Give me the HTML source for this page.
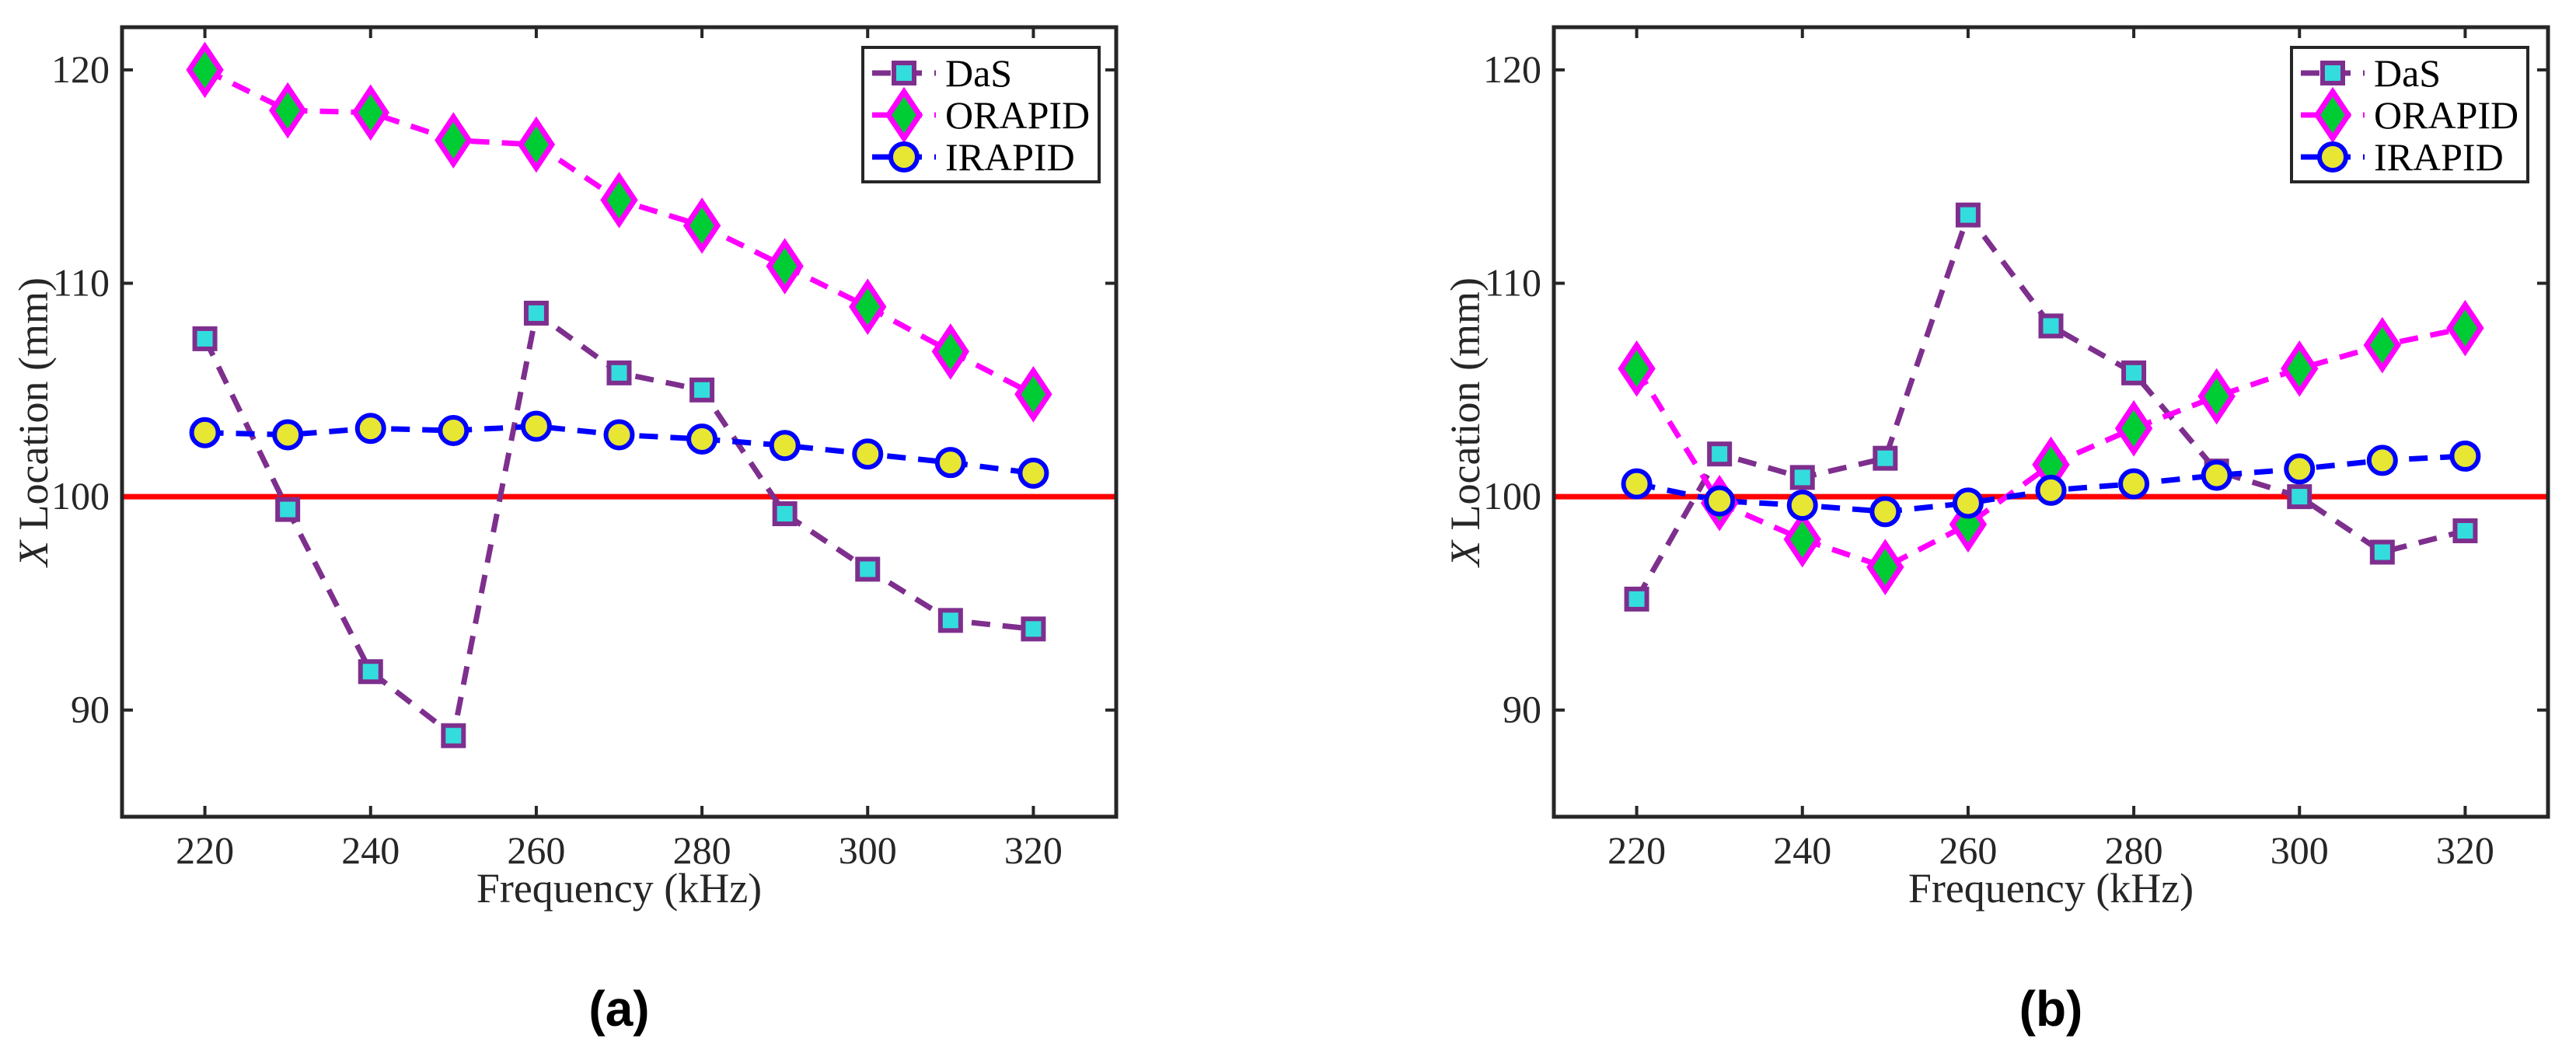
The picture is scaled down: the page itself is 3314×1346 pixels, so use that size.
<!DOCTYPE html>
<html><head><meta charset="utf-8"><style>
html,body{margin:0;padding:0;background:#fff;}
svg{display:block;font-family:"Liberation Serif",serif;}
</style></head><body>
<svg id="fig" width="3314" height="1346" viewBox="0 0 3314 1346"></svg>
<script>
const freqs=[220,230,240,250,260,270,280,290,300,310,320];
const xTicks=[220,240,260,280,300,320];
const yTicks=[90,100,110,120];
const dasA=[107.4,99.4,91.8,88.8,108.6,105.8,105.0,99.2,96.6,94.2,93.8];
const orapidA=[120,118.1,118,116.7,116.5,113.9,112.7,110.8,108.9,106.8,104.8];
const irapidA=[103,102.9,103.2,103.1,103.3,102.9,102.7,102.4,102.0,101.6,101.1];
const dasB=[95.2,102,100.9,101.8,113.2,108,105.8,101.2,100,97.4,98.4];
const orapidB=[106,99.7,98,96.7,98.7,101.5,103.2,104.7,106,107.1,107.9];
const irapidB=[100.6,99.8,99.6,99.3,99.7,100.3,100.6,101,101.3,101.7,101.9];
const refValue=100;

const NS='http://www.w3.org/2000/svg';
const svg=document.getElementById('fig');
function mk(tag,attrs,parent){const e=document.createElementNS(NS,tag);for(const k in attrs)e.setAttribute(k,attrs[k]);(parent||svg).appendChild(e);return e;}

function panel(id,L,R,T,B,das,ora,ira,label,legX){
  const g=mk('g',{});
  
  
  const x=v=>L+(v-210)/(330-210)*(R-L);
  const y=v=>B-(v-85)/(122-85)*(B-T);
  xTicks.forEach(t=>{
    mk('line',{x1:x(t),x2:x(t),y1:B,y2:B-14,stroke:'#262626','stroke-width':4},g);
    mk('line',{x1:x(t),x2:x(t),y1:T,y2:T+14,stroke:'#262626','stroke-width':4},g);
    const tx=mk('text',{x:x(t),y:1111,'font-size':50,fill:'#262626','text-anchor':'middle'},g);
    tx.textContent=t;
    
    
  });
  yTicks.forEach(t=>{
    mk('line',{x1:L,x2:L+14,y1:y(t),y2:y(t),stroke:'#262626','stroke-width':4},g);
    mk('line',{x1:R,x2:R-14,y1:y(t),y2:y(t),stroke:'#262626','stroke-width':4},g);
    const tx=mk('text',{x:L-16,y:y(t)+16,'font-size':50,fill:'#262626','text-anchor':'end'},g);
    tx.textContent=t;
    
    
  });
  const rl=mk('line',{x1:L,x2:R,y1:y(refValue),y2:y(refValue),stroke:'#ff0000','stroke-width':7},g);
  
  
  function series(vals,color,name){
    const pts=vals.map((v,i)=>x(freqs[i])+','+y(v)).join(' ');
    const pl=mk('polyline',{points:pts,fill:'none',stroke:color,'stroke-width':7,'stroke-dasharray':'24,16'},g);
    
    
  }
  function sq(cx,cy,p){return mk('rect',{x:cx-13,y:cy-13,width:26,height:26,fill:'#33dddd',stroke:'#7e2f8e','stroke-width':6},p);}
  function di(cx,cy,p){return mk('polygon',{points:`${cx},${cy-30} ${cx+20},${cy} ${cx},${cy+30} ${cx-20},${cy}`,fill:'#00cc33',stroke:'#ff00ff','stroke-width':7},p);}
  function ci(cx,cy,p){return mk('circle',{cx:cx,cy:cy,r:17,fill:'#e6e633',stroke:'#0000ff','stroke-width':6},p);}
  series(das,'#7e2f8e','das');
  series(ora,'#ff00ff','orapid');
  series(ira,'#0000ff','irapid');
  das.forEach((v,i)=>{const m=sq(x(freqs[i]),y(v),g);});
  ora.forEach((v,i)=>{const m=di(x(freqs[i]),y(v),g);});
  ira.forEach((v,i)=>{const m=ci(x(freqs[i]),y(v),g);});
  const box=mk('rect',{x:L,y:T,width:R-L,height:B-T,fill:'none',stroke:'#262626','stroke-width':5},g);
  
  
  const xl=mk('text',{x:(L+R)/2,y:1161,'font-size':54,fill:'#262626','text-anchor':'middle'},g);
  xl.textContent='Frequency (kHz)';
  
  
  const yl=mk('text',{x:0,y:0,'font-size':54,fill:'#262626','text-anchor':'middle',transform:`translate(${L-96},${(T+B)/2}) rotate(-90)`},g);
  yl.innerHTML='<tspan font-style="italic">X</tspan> Location (mm)';
  
  
  const pl=mk('text',{x:(L+R)/2,y:1320,'font-size':64,'font-weight':'bold','font-family':'Liberation Sans, sans-serif',fill:'#000','text-anchor':'middle'},g);
  pl.textContent=label;
  
  
  const lg=mk('g',{},g);
  
  
  mk('rect',{x:legX,y:61,width:304,height:173,fill:'#fff',stroke:'#262626','stroke-width':4},lg);
  const entries=[['DaS','#7e2f8e',sq],['ORAPID','#ff00ff',di],['IRAPID','#0000ff',ci]];
  entries.forEach((e,i)=>{
    const ey=94+i*54;
    const eg=mk('g',{},lg);
    
    
    mk('line',{x1:legX+12,x2:legX+94,y1:ey,y2:ey,stroke:e[1],'stroke-width':7,'stroke-dasharray':'24,16'},eg);
    e[2](legX+53,ey,eg);
    const t=mk('text',{x:legX+106,y:ey+17,'font-size':50,fill:'#000'},eg);
    t.textContent=e[0];
  });
}
panel('a',157,1436,35,1051,dasA,orapidA,irapidA,'(a)',1110);
panel('b',1999,3278,35,1051,dasB,orapidB,irapidB,'(b)',2948);
</script>
</body></html>
